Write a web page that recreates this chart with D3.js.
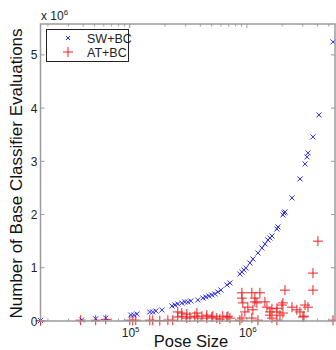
<!DOCTYPE html>
<html>
<head>
<meta charset="utf-8">
<script src="https://cdn.jsdelivr.net/npm/d3@7"></script>
<style>
  body { margin: 0; background: #fff; }
  svg { display: block; font-family: "Liberation Sans", Arial, sans-serif; }
</style>
</head>
<body>
<div id="chart"></div>
<script>
// SW+BC: pose size vs. classifier evaluations
const swPose = [17300, 38900, 51200, 62400, 102000, 108000, 115000, 148000, 157000, 167000,
  188000, 229000, 243000, 257000, 278000, 295000, 313000, 332000, 381000, 421000,
  446000, 473000, 502000, 532000, 565000, 600000, 675000, 716000, 871000, 906000,
  942000, 980000, 1061000, 1125000, 1242000, 1343000, 1425000, 1512000, 1573000, 1636000,
  1804000, 1841000, 2030000, 2072000, 2113000, 2426000, 2838000, 3133000, 3258000, 3322000,
  3664000, 4122000, 5433000];
const swEvals = [10000, 20000, 40000, 56000, 113000, 113000, 132000, 169000, 169000, 188000,
  207000, 282000, 301000, 320000, 338000, 357000, 357000, 376000, 395000, 432000,
  451000, 470000, 489000, 508000, 545000, 583000, 677000, 714000, 883000, 921000,
  959000, 996000, 1090000, 1165000, 1278000, 1372000, 1447000, 1523000, 1560000, 1598000,
  1729000, 1767000, 1992000, 2030000, 2049000, 2312000, 2669000, 2951000, 3083000, 3158000,
  3459000, 3872000, 5244000];

// AT+BC
const atPose = [17300, 38100, 51200, 62400, 100000, 106100, 112500, 148200, 157200, 180500,
  211500, 233000, 257000, 278000, 307000, 326000, 359000, 381000, 413000, 455000,
  502000, 553000, 587000, 623000, 675000, 716000, 871000, 906000, 1102000, 1242000,
  1636000, 1804000, 1915000, 3010000, 5433000,
  257000, 278000, 307000, 374000, 455000, 512000, 688000, 961000, 1019000, 1125000,
  1573000, 1804000, 2030000, 1573000, 2838000, 3070000,
  906000, 906000, 924000, 1102000, 1170000, 1170000, 1217000, 1292000, 1425000, 1483000,
  1804000, 2030000, 2113000, 2426000, 2672000, 3133000, 3322000, 1636000, 1990000, 3664000,
  3664000, 4040000];
const atEvals = [5000, 15000, 15000, 30000, 15000, 10000, 15000, 15000, 12000, 5000,
  15000, 15000, 75000, 90000, 55000, 75000, 90000, 55000, 90000, 55000,
  75000, 55000, 35000, 90000, 75000, 55000, 15000, 55000, 55000, 15000,
  55000, 15000, 110000, 75000, 15000,
  170000, 150000, 130000, 150000, 110000, 90000, 90000, 170000, 260000, 210000,
  170000, 170000, 150000, 110000, 170000, 90000,
  530000, 430000, 340000, 530000, 430000, 360000, 340000, 530000, 360000, 260000,
  240000, 340000, 580000, 260000, 210000, 300000, 260000, 230000, 300000, 580000,
  900000, 1500000];

const yTicks = [0, 1e6, 2e6, 3e6, 4e6, 5e6];
const xMajor = [1e5, 1e6];
const xMinor = [2e4, 3e4, 4e4, 5e4, 6e4, 7e4, 8e4, 9e4,
  2e5, 3e5, 4e5, 5e5, 6e5, 7e5, 8e5, 9e5, 2e6, 3e6, 4e6, 5e6];

const width = 336, height = 350;
const pLeft = 40.5, pRight = 335, pTop = 24, pBottom = 321;
const axisColor = '#9a9a9a';
const blue = '#2a2af0', red = '#ee2222';

const x = d3.scaleLog().domain([17300, 5650000]).range([pLeft, pRight]);
const y = d3.scaleLinear().domain([0, 5580000]).range([pBottom, pTop]);

const svg = d3.select('#chart').append('svg')
  .attr('width', width).attr('height', height);

const sw = swPose.map((p, i) => ({ p, e: swEvals[i] }));
const at = atPose.map((p, i) => ({ p, e: atEvals[i] }));

// AT+BC markers (+)
svg.append('g').selectAll('path')
  .data(at).enter().append('path')
  .attr('d', d => {
    const cx = x(d.p), cy = y(d.e), r = 5;
    return `M${cx - r},${cy}H${cx + r}M${cx},${cy - r}V${cy + r}`;
  })
  .attr('stroke', red).attr('stroke-width', 1).attr('fill', 'none');

// SW+BC markers (x)
svg.append('g').selectAll('path')
  .data(sw).enter().append('path')
  .attr('d', d => {
    const cx = x(d.p), cy = y(d.e), r = 2.5;
    return `M${cx - r},${cy - r}L${cx + r},${cy + r}M${cx - r},${cy + r}L${cx + r},${cy - r}`;
  })
  .attr('stroke', blue).attr('stroke-width', 1).attr('fill', 'none');

// box
svg.append('rect')
  .attr('x', pLeft).attr('y', pTop)
  .attr('width', pRight - pLeft).attr('height', pBottom - pTop)
  .attr('fill', 'none').attr('stroke', axisColor).attr('stroke-width', 1.5);

// ticks on all four sides
const tk = svg.append('g').attr('stroke', axisColor).attr('stroke-width', 1);
xMajor.forEach(v => {
  tk.append('line').attr('x1', x(v)).attr('x2', x(v)).attr('y1', pBottom).attr('y2', pBottom - 4);
  tk.append('line').attr('x1', x(v)).attr('x2', x(v)).attr('y1', pTop).attr('y2', pTop + 4);
});
xMinor.forEach(v => {
  tk.append('line').attr('x1', x(v)).attr('x2', x(v)).attr('y1', pBottom).attr('y2', pBottom - 2.5);
  tk.append('line').attr('x1', x(v)).attr('x2', x(v)).attr('y1', pTop).attr('y2', pTop + 2.5);
});
yTicks.forEach(v => {
  tk.append('line').attr('x1', pLeft).attr('x2', pLeft + 4).attr('y1', y(v)).attr('y2', y(v));
  tk.append('line').attr('x1', pRight).attr('x2', pRight - 4).attr('y1', y(v)).attr('y2', y(v));
});

// tick labels
svg.append('g').selectAll('text')
  .data(yTicks).enter().append('text')
  .attr('x', pLeft - 3).attr('y', d => y(d) + 4.5)
  .attr('text-anchor', 'end').attr('font-size', 12).attr('fill', '#222')
  .text(d => d / 1e6);

const xl = svg.append('g').selectAll('text')
  .data(xMajor).enter().append('text')
  .attr('x', d => x(d) - 8).attr('y', 337)
  .attr('font-size', 12).attr('fill', '#222');
xl.append('tspan').text('10');
xl.append('tspan').attr('dy', -5).attr('font-size', 8).text(d => Math.round(Math.log10(d)));

// exponent label
const ex = svg.append('text').attr('x', 41).attr('y', 20)
  .attr('font-size', 12).attr('fill', '#222');
ex.append('tspan').text('x 10');
ex.append('tspan').attr('dy', -5).attr('font-size', 8).text('6');

// axis labels
svg.append('text')
  .attr('x', 191).attr('y', 347)
  .attr('text-anchor', 'middle').attr('font-size', 16.5).attr('fill', '#111')
  .text('Pose Size');
svg.append('text')
  .attr('transform', `translate(22,${(pTop + pBottom) / 2 + 1}) rotate(-90)`)
  .attr('text-anchor', 'middle').attr('font-size', 17).attr('fill', '#111')
  .text('Number of Base Classifier Evaluations');

// legend
const lg = svg.append('g');
lg.append('rect').attr('x', 46.5).attr('y', 29.5).attr('width', 82).attr('height', 32)
  .attr('fill', '#fff').attr('stroke', '#222').attr('stroke-width', 1);
lg.append('path')
  .attr('d', 'M66,36L70,40M66,40L70,36')
  .attr('stroke', blue).attr('stroke-width', 1);
lg.append('path')
  .attr('d', 'M63,52H73M68,47V57')
  .attr('stroke', red).attr('stroke-width', 1);
lg.append('text').attr('x', 87).attr('y', 42.5).attr('font-size', 12.5).attr('fill', '#222').text('SW+BC');
lg.append('text').attr('x', 87).attr('y', 56.5).attr('font-size', 12.5).attr('fill', '#222').text('AT+BC');
</script>
</body>
</html>
